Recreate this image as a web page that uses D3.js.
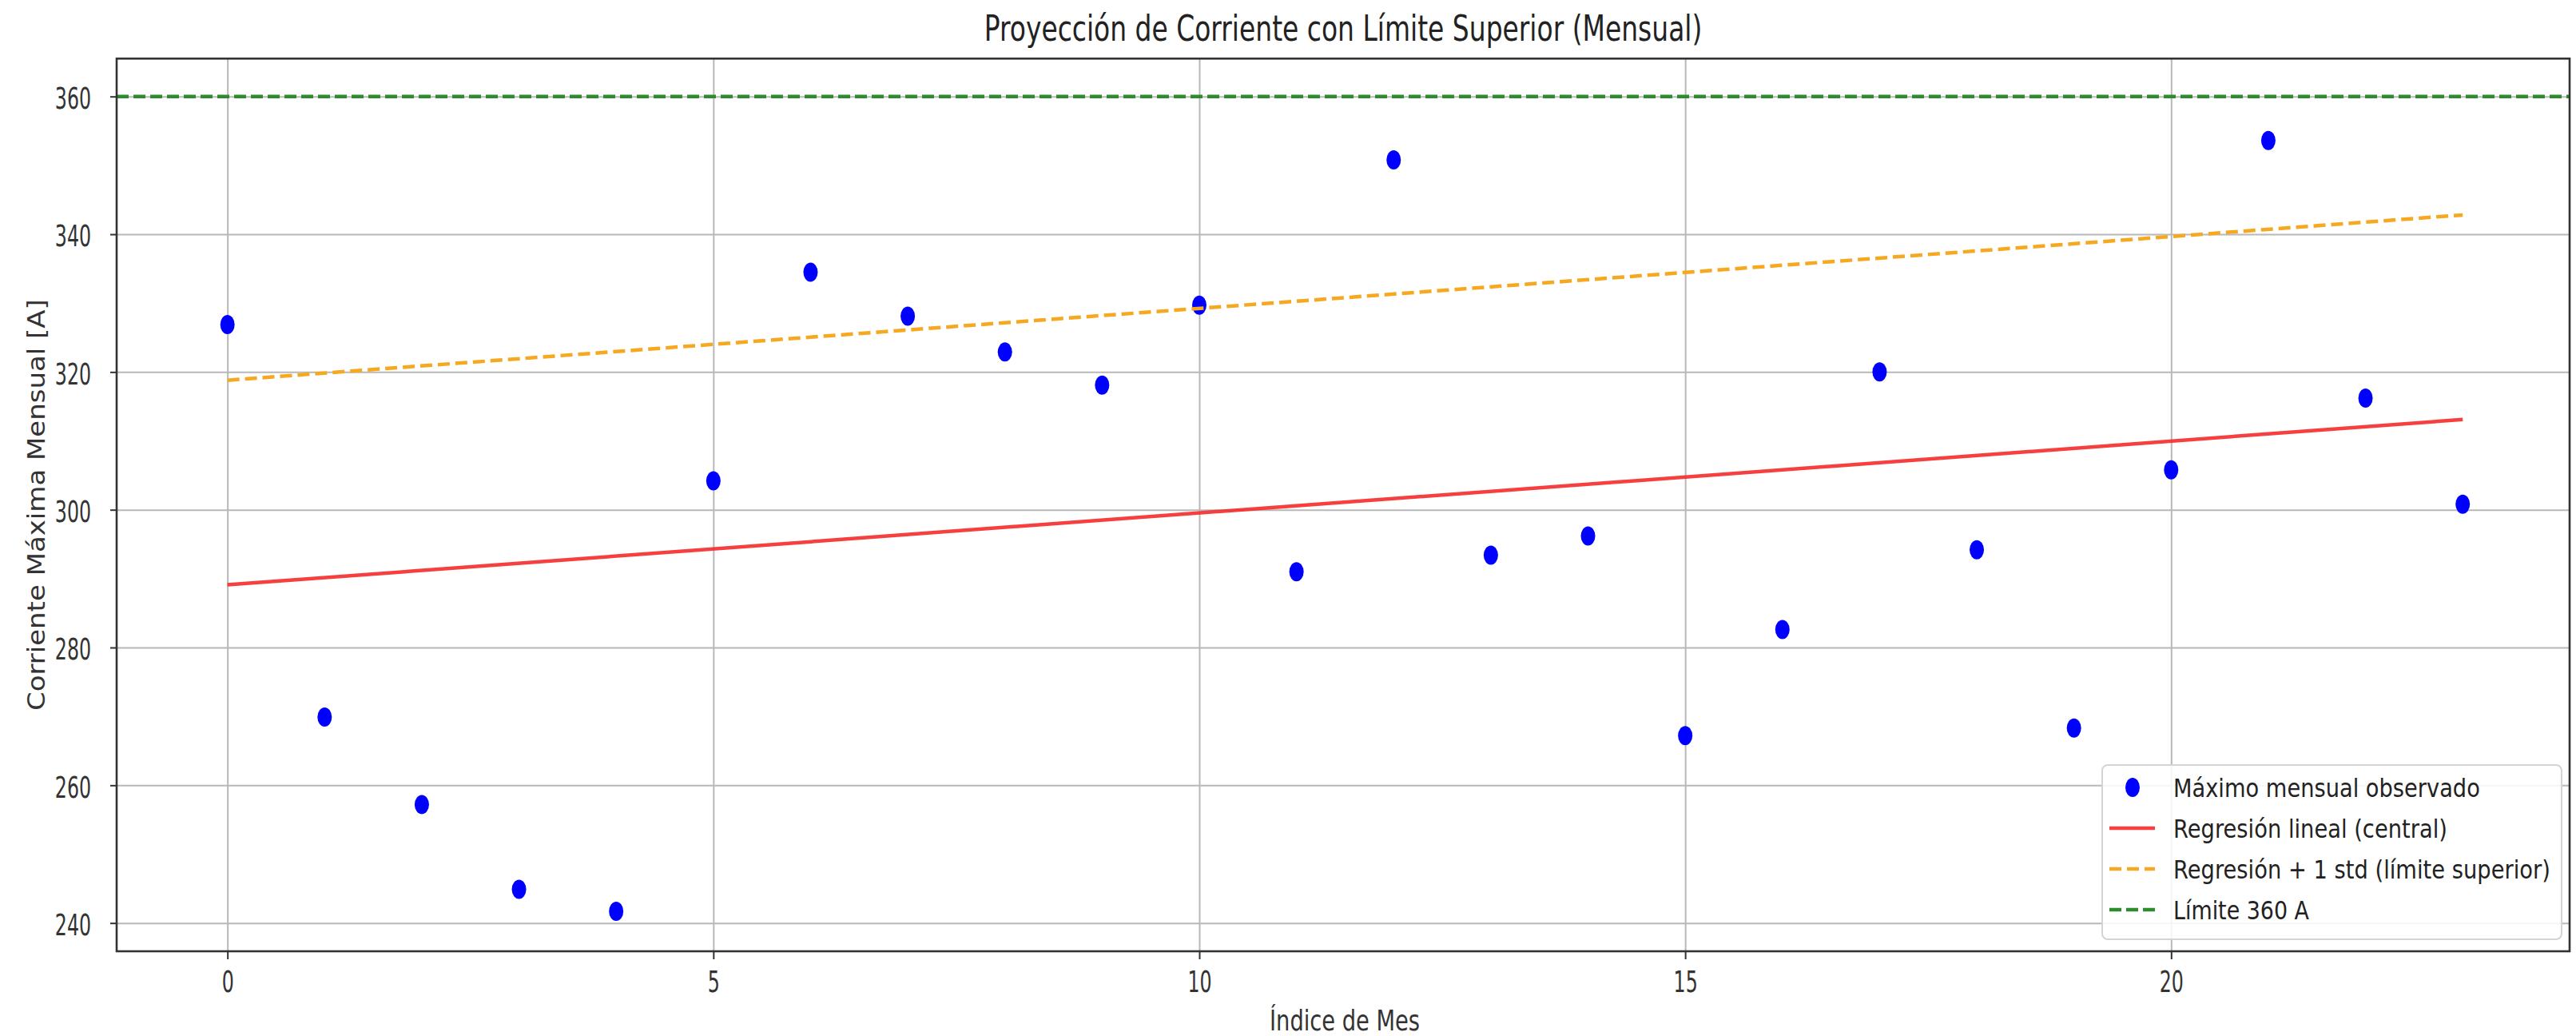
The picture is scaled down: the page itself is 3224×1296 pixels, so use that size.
<!DOCTYPE html>
<html>
<head>
<meta charset="utf-8">
<script src="https://cdn.jsdelivr.net/npm/d3@7"></script>
<style>
  body { margin: 0; background: #fff; }
  svg { display: block; font-family: "DejaVu Sans", sans-serif; }
</style>
</head>
<body>
<svg id="chart"></svg>
<script>
// Data
const monthIndex = [0, 1, 2, 3, 4, 5, 6, 7, 8, 9, 10, 11, 12, 13, 14, 15, 16, 17, 18, 19, 20, 21, 22, 23];
const maxCurrent = [326.9, 269.9, 257.2, 244.9, 241.7, 304.2, 334.5, 328.1, 322.9, 318.1, 329.7, 291.0,
                    350.8, 293.4, 296.2, 267.2, 282.6, 320.0, 294.2, 268.3, 305.8, 353.6, 316.2, 300.8];
const regX       = [0, 23];
const regCentral = [289.1, 313.1];
const regUpper   = [318.8, 342.8];
const limitValue = 360;
const xTicks = [0, 5, 10, 15, 20];
const yTicks = [240, 260, 280, 300, 320, 340, 360];
const legendLabels = [
    "Máximo mensual observado",
    "Regresión lineal (central)",
    "Regresión + 1 std (límite superior)",
    "Límite 360 A"
];

// Layout
const W = 3224, H = 1296;
const plot = { left: 146, right: 3216, top: 73.3, bottom: 1190 };

const svg = d3.select("#chart").attr("width", W).attr("height", H);

const x = d3.scaleLinear().domain([-1.14, 24.1]).range([plot.left, plot.right]);
const y = d3.scaleLinear().domain([235.9, 365.5]).range([plot.bottom, plot.top]);

// the reference is stretched vertically: squeeze each text horizontally to the measured width
function fitWidth(sel, target, tx, ty, rot) {
    const len = sel.node().getComputedTextLength();
    sel.attr("transform", `translate(${tx},${ty})${rot ? " rotate(-90)" : ""} scale(${target / len},1)`);
}

// Grid
svg.append("g")
    .attr("transform", `translate(0,${plot.bottom})`)
    .call(d3.axisBottom(x).tickValues(xTicks).tickSize(-(plot.bottom - plot.top)).tickFormat(""))
    .call(g => g.select(".domain").remove())
    .call(g => g.selectAll("text").remove())
    .call(g => g.selectAll("line").attr("stroke", "#b8b8b8").attr("stroke-width", 2));

svg.append("g")
    .attr("transform", `translate(${plot.left},0)`)
    .call(d3.axisLeft(y).tickValues(yTicks).tickSize(-(plot.right - plot.left)).tickFormat(""))
    .call(g => g.select(".domain").remove())
    .call(g => g.selectAll("text").remove())
    .call(g => g.selectAll("line").attr("stroke", "#b8b8b8").attr("stroke-width", 2));

// Points
svg.append("g").selectAll("ellipse")
    .data(monthIndex)
    .join("ellipse")
    .attr("cx", d => x(d))
    .attr("cy", (d, i) => y(maxCurrent[i]))
    .attr("rx", 9)
    .attr("ry", 12)
    .attr("fill", "#0000ff");

// Regression lines
const line = d3.line().x(d => x(d[0])).y(d => y(d[1]));

svg.append("path")
    .datum(regX.map((v, i) => [v, regCentral[i]]))
    .attr("d", line)
    .attr("fill", "none")
    .attr("stroke", "#f52a2a")
    .attr("stroke-opacity", 0.9)
    .attr("stroke-width", 4.5);

svg.append("path")
    .datum(regX.map((v, i) => [v, regUpper[i]]))
    .attr("d", line)
    .attr("fill", "none")
    .attr("stroke", "#f5a820")
    .attr("stroke-width", 4.5)
    .attr("stroke-dasharray", "15,7");

// Limit line across the full axes
svg.append("line")
    .attr("x1", plot.left).attr("x2", plot.right)
    .attr("y1", y(limitValue)).attr("y2", y(limitValue))
    .attr("stroke", "#2e8b2e")
    .attr("stroke-width", 4.5)
    .attr("stroke-dasharray", "15,6");

// Frame
svg.append("rect")
    .attr("x", plot.left).attr("y", plot.top)
    .attr("width", plot.right - plot.left)
    .attr("height", plot.bottom - plot.top)
    .attr("fill", "none")
    .attr("stroke", "#333")
    .attr("stroke-width", 2.6);

// Axes
const yAxisG = svg.append("g")
    .attr("transform", `translate(${plot.left},0)`)
    .call(d3.axisLeft(y).tickValues(yTicks).tickSize(8).tickPadding(24))
    .call(g => g.select(".domain").remove());
yAxisG.selectAll("line").attr("stroke", "#333").attr("stroke-width", 2);
yAxisG.selectAll("text")
    .attr("font-size", 37)
    .attr("fill", "#333")
    .attr("font-family", "DejaVu Sans")
    .attr("dy", "0.40em")
    .each(function () {
        const t = d3.select(this);
        const px = +t.attr("x");
        t.attr("x", null);
        fitWidth(t, this.getComputedTextLength() * 0.64, px, 0, false);
    });

const xAxisG = svg.append("g")
    .attr("transform", `translate(0,${plot.bottom})`)
    .call(d3.axisBottom(x).tickValues(xTicks).tickSize(10).tickPadding(0))
    .call(g => g.select(".domain").remove());
xAxisG.selectAll("line").attr("stroke", "#333").attr("stroke-width", 2);
xAxisG.selectAll("text")
    .attr("font-size", 37)
    .attr("fill", "#333")
    .attr("font-family", "DejaVu Sans")
    .attr("y", null)
    .attr("dy", 0)
    .each(function () {
        fitWidth(d3.select(this), this.getComputedTextLength() * 0.64, 0, 51, false);
    });

// Titles
const title = svg.append("text")
    .attr("text-anchor", "middle")
    .attr("font-size", 44)
    .attr("fill", "#222")
    .text("Proyección de Corriente con Límite Superior (Mensual)");
fitWidth(title, 899, (plot.left + plot.right) / 2, 51, false);

const xLabel = svg.append("text")
    .attr("text-anchor", "middle")
    .attr("font-size", 35)
    .attr("fill", "#333")
    .text("Índice de Mes");
fitWidth(xLabel, 188, 1683, 1289, false);

const yLabel = svg.append("text")
    .attr("text-anchor", "middle")
    .attr("font-size", 31)
    .attr("fill", "#333")
    .text("Corriente Máxima Mensual [A]");
fitWidth(yLabel, 515, 56, (plot.top + plot.bottom) / 2, true);

// Legend
const legend = svg.append("g").attr("transform", "translate(2631,957)");
legend.append("rect")
    .attr("width", 575).attr("height", 218)
    .attr("rx", 7)
    .attr("fill", "#fff").attr("fill-opacity", 0.85)
    .attr("stroke", "#d4d4d4").attr("stroke-width", 2);

const rowY = [28, 79, 130, 181];
const textLen = [384, 343, 472, 170];

legend.append("ellipse")
    .attr("cx", 38).attr("cy", rowY[0]).attr("rx", 9).attr("ry", 12)
    .attr("fill", "#0000ff");
legend.append("line")
    .attr("x1", 9).attr("x2", 66).attr("y1", rowY[1]).attr("y2", rowY[1])
    .attr("stroke", "#f52a2a").attr("stroke-opacity", 0.9).attr("stroke-width", 4.5);
legend.append("line")
    .attr("x1", 9).attr("x2", 66).attr("y1", rowY[2]).attr("y2", rowY[2])
    .attr("stroke", "#f5a820").attr("stroke-width", 4.5).attr("stroke-dasharray", "15,7");
legend.append("line")
    .attr("x1", 9).attr("x2", 66).attr("y1", rowY[3]).attr("y2", rowY[3])
    .attr("stroke", "#2e8b2e").attr("stroke-width", 4.5).attr("stroke-dasharray", "15,6");

legend.selectAll(".lbl")
    .data(legendLabels)
    .join("text")
    .attr("class", "lbl")
    .attr("font-size", 32)
    .attr("fill", "#222")
    .text(d => d)
    .each(function (d, i) {
        fitWidth(d3.select(this), textLen[i], 89, rowY[i] + 12, false);
    });
</script>
</body>
</html>
